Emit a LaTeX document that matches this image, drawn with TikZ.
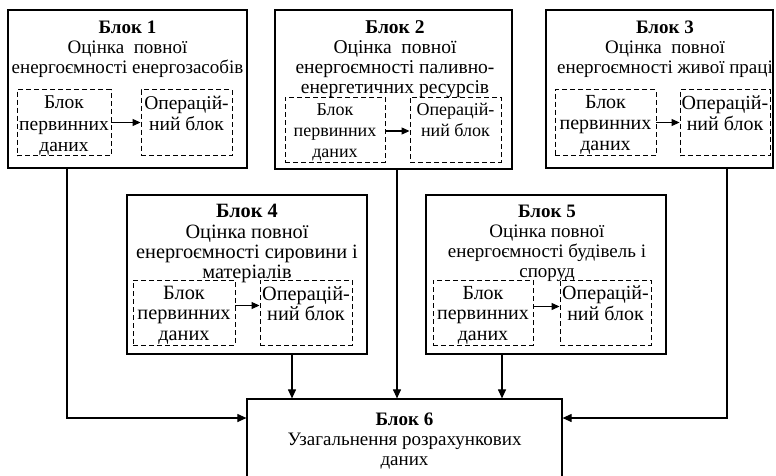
\documentclass[tikz,border=0pt]{standalone}
\usepackage{fontspec}
\setmainfont{Liberation Serif}
\usetikzlibrary{arrows.meta,positioning,calc}
\newcommand\fsz[2]{\fontsize{#1}{#2}\selectfont}

\begin{document}
\begin{tikzpicture}[x=1pt, y=-1pt,
		block/.style={draw, line width=1.2pt, inner sep=0pt},
		dbox/.style={draw, dash pattern=on 5pt off 3pt, line width=0.9pt, inner sep=0pt},
		dtxt/.style={anchor=north, inner sep=0pt, align=center},
		ttl/.style={anchor=north, inner sep=0pt, align=center},
		conn/.style={line width=1.1pt, -{Triangle[length=9pt, width=8pt]}},
		inner/.style={line width=1.1pt, -{Triangle[length=8pt, width=7pt]}}
	]
	\useasboundingbox (0,0) rectangle (776,475);
	\clip (0,0) rectangle (776,475);

	% блоки
	\node[block, minimum width=239pt, minimum height=158pt] (b1) at (127.5, 89)   {};
	\node[block, minimum width=237pt, minimum height=159pt] (b2) at (393.5, 89.5) {};
	\node[block, minimum width=227pt, minimum height=158pt] (b3) at (659.5, 89)   {};
	\node[block, minimum width=240pt, minimum height=159pt] (b4) at (247,  274.5) {};
	\node[block, minimum width=240pt, minimum height=159pt] (b5) at (546,  274.5) {};
	\node[block, minimum width=315pt, minimum height=121pt] (b6) at (404.5, 459.5) {};

	% заголовки
	\node[ttl, font=\fsz{19}{20}]     (t1) at ([yshift=-11pt]b1.north) {\textbf{Блок 1}\\Оцінка\ \ повної\\енергоємності енергозасобів};
	\node[ttl, font=\fsz{19.5}{20}]   (t2) at ([xshift=1.5pt, yshift=-10.5pt]b2.north) {\textbf{Блок 2}\\Оцінка\ \ повної\\енергоємності паливно-\\енергетичних ресурсів};
	\node[ttl, font=\fsz{19}{20}]     (t3) at ([xshift=5.5pt, yshift=-11pt]b3.north) {\textbf{Блок 3}\\Оцінка\ \ повної\\енергоємності живої праці};
	\node[ttl, font=\fsz{20.3}{20.3}] (t4) at ([yshift=-10pt]b4.north) {\textbf{Блок 4}\\Оцінка повної\\енергоємності сировини і\\матеріалів};
	\node[ttl, font=\fsz{19}{20}]     (t5) at ([xshift=1pt, yshift=-10pt]b5.north) {\textbf{Блок 5}\\Оцінка повної\\енергоємності будівель і\\споруд};
	\node[ttl, font=\fsz{19}{20}]     (t6) at ([yshift=-14pt]b6.north) {\textbf{Блок 6}\\Узагальнення розрахункових\\даних};

	% пунктирні блоки
	\node[dbox, minimum width=94pt,  minimum height=66pt] (d1a) at (64, 122.5)    {};
	\node[dbox, minimum width=91pt,  minimum height=66pt] (d1b) at (186.5, 122.5) {};
	\node[dbox, minimum width=100pt, minimum height=65pt] (d2a) at (335, 129.5)   {};
	\node[dbox, minimum width=91pt,  minimum height=65pt] (d2b) at (455.5, 129.5) {};
	\node[dbox, minimum width=101pt, minimum height=66pt] (d3a) at (605.5, 122.5) {};
	\node[dbox, minimum width=90pt,  minimum height=66pt] (d3b) at (725, 122.5)   {};
	\node[dbox, minimum width=102pt, minimum height=65pt] (d4a) at (184, 312.5)   {};
	\node[dbox, minimum width=92pt,  minimum height=65pt] (d4b) at (306, 312.5)   {};
	\node[dbox, minimum width=100pt, minimum height=65pt] (d5a) at (483, 312.5)   {};
	\node[dbox, minimum width=91pt,  minimum height=65pt] (d5b) at (605.5, 312.5) {};

	% тексти пунктирних блоків
	\foreach \i/\s/\l in {1/19.5/21.5, 2/18/21, 3/20/21, 4/20.3/20.3, 5/20/20.5} {
		\node[dtxt, font=\fsz{\s}{\l}] (s\i a) at ([yshift=-6.5pt]d\i a.north) {Блок\\первинних\\даних};
		\node[dtxt, font=\fsz{\s}{\l}] (s\i b) at ([yshift=-6.5pt]d\i b.north) {Операцій-\\ний блок};
	}

	% стрілки всередині
	\foreach \i/\h in {1/0, 2/-1.5, 3/0, 4/7, 5/6}
		\draw[inner] ([yshift=\h pt]d\i a.east) -- ([yshift=\h pt]d\i b.west);

	% точки зламу
	\coordinate (j1) at (67, 418);
	\coordinate (j3) at (727, 418);
	\coordinate (x2) at (397, 0);
	\coordinate (x4) at (292, 0);
	\coordinate (x5) at (502, 0);

	% зв'язки
	\draw[conn] (b1.south -| j1) |- (b6.west |- j1);
	\draw[conn] (b3.south -| j3) |- (b6.east |- j3);
	\draw[conn] (b4.south -| x4) -- (b6.north -| x4);
	\draw[conn] (b2.south -| x2) -- (b6.north -| x2);
	\draw[conn] (b5.south -| x5) -- (b6.north -| x5);
\end{tikzpicture}
\end{document}
